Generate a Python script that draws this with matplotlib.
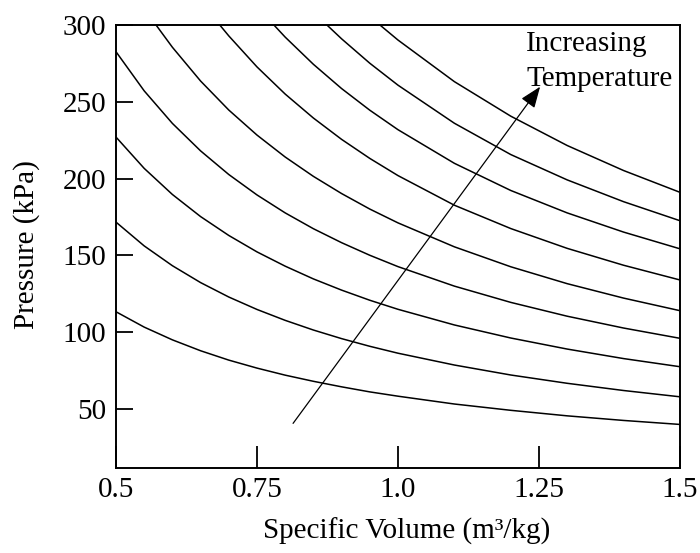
import matplotlib
matplotlib.use("Agg")
import matplotlib.pyplot as plt

plt.rcParams['font.family'] = ['Liberation Serif', 'DejaVu Serif']

# Specific volume grid (m3/kg) and pressures (kPa) read from the isotherms
v_grid = [0.5, 0.55, 0.6, 0.65, 0.7, 0.75, 0.8, 0.85, 0.9, 0.95, 1.0, 1.1, 1.2, 1.3, 1.4, 1.5]
p_t1 = [113.2, 103.2, 94.9, 87.8, 81.7, 76.5, 71.9, 67.9, 64.3, 61.0, 58.2, 53.1, 49.0, 45.4, 42.4, 39.8]
p_t2 = [171.6, 156.1, 143.2, 132.2, 122.8, 114.7, 107.6, 101.3, 95.7, 90.7, 86.2, 78.5, 72.0, 66.6, 61.9, 57.8]
p_t3 = [227.0, 206.6, 189.6, 175.2, 162.9, 152.2, 142.9, 134.6, 127.3, 120.7, 114.8, 104.6, 96.1, 88.9, 82.7, 77.4]
p_t4 = [282.6, 257.1, 235.9, 218.0, 202.6, 189.3, 177.6, 167.3, 158.2, 150.0, 142.6, 129.9, 119.3, 110.3, 102.6, 95.9]

v_t5 = [0.571, 0.6, 0.65, 0.7, 0.75, 0.8, 0.85, 0.9, 0.95, 1.0, 1.1, 1.2, 1.3, 1.4, 1.5]
p_t5 = [300, 285.5, 263.5, 244.6, 228.3, 214.0, 201.4, 190.2, 180.1, 171.1, 155.5, 142.5, 131.5, 122.1, 113.9]
v_t6 = [0.684, 0.7, 0.75, 0.8, 0.85, 0.9, 0.95, 1.0, 1.1, 1.2, 1.3, 1.4, 1.5]
p_t6 = [300, 292.9, 272.7, 255.0, 239.4, 225.5, 213.1, 201.9, 182.6, 167.4, 154.5, 143.5, 133.9]
v_t7 = [0.78, 0.8, 0.85, 0.9, 0.95, 1.0, 1.1, 1.2, 1.3, 1.4, 1.5]
p_t7 = [300, 292.1, 274.4, 258.6, 244.5, 231.8, 209.9, 192.2, 177.6, 165.1, 154.2]
v_t8 = [0.874, 0.9, 0.95, 1.0, 1.1, 1.2, 1.3, 1.4, 1.5]
p_t8 = [300, 291.0, 275.1, 260.8, 236.0, 215.6, 199.1, 184.9, 172.5]
v_t9 = [0.968, 1.0, 1.1, 1.2, 1.3, 1.4, 1.5]
p_t9 = [300, 290.2, 263.1, 240.6, 221.5, 205.2, 191.0]

x_ticks = [0.5, 0.75, 1.0, 1.25, 1.5]
x_ticklabels = ['0.5', '0.75', '1.0', '1.25', '1.5']
y_ticks = [50, 100, 150, 200, 250, 300]
y_ticklabels = ['50', '100', '150', '200', '250', '300']

arrow_tail = (0.814, 40.5)
arrow_head = (1.252, 259.8)

curves = [(v_grid, p_t1), (v_grid, p_t2), (v_grid, p_t3), (v_grid, p_t4),
          (v_t5, p_t5), (v_t6, p_t6), (v_t7, p_t7), (v_t8, p_t8), (v_t9, p_t9)]

fig = plt.figure(figsize=(7.0, 5.53), dpi=100)
ax = fig.add_axes([0.1657, 0.1542, 0.8057, 0.8006])

for vs, ps in curves:
    ax.plot(vs, ps, color='black', lw=1.1, solid_capstyle='butt')

ax.set_xlim(0.5, 1.5)
ax.set_ylim(11.6, 300)

ax.set_xticks(x_ticks)
ax.set_xticklabels(x_ticklabels)
ax.set_yticks(y_ticks)
ax.set_yticklabels(y_ticklabels)

ax.tick_params(axis='x', direction='in', length=15.8, width=1.3, labelsize=21, pad=7,
               top=False, colors='black')
ax.tick_params(axis='y', direction='in', length=12.2, width=1.3, labelsize=21, pad=7,
               right=False, colors='black')
for s in ax.spines.values():
    s.set_linewidth(1.4)

ax.annotate('', xy=arrow_head, xytext=arrow_tail,
            arrowprops=dict(arrowstyle='-|>,head_length=0.65,head_width=0.25',
                            color='black', lw=0.9, mutation_scale=20,
                            shrinkA=0, shrinkB=0))

ax.text(1.227, 283.3, 'Increasing', fontsize=21, ha='left', va='baseline')
ax.text(1.227, 260.3, 'Temperature', fontsize=21, ha='left', va='baseline')

fig.text(407 / 700, 1 - 539 / 553, 'Specific Volume (m³/kg)', fontsize=21,
         ha='center', va='baseline')
fig.text(27 / 700, 0.557, 'Pressure (kPa)', fontsize=21, rotation=90,
         ha='center', va='center')

fig.savefig('out.png', dpi=100)
